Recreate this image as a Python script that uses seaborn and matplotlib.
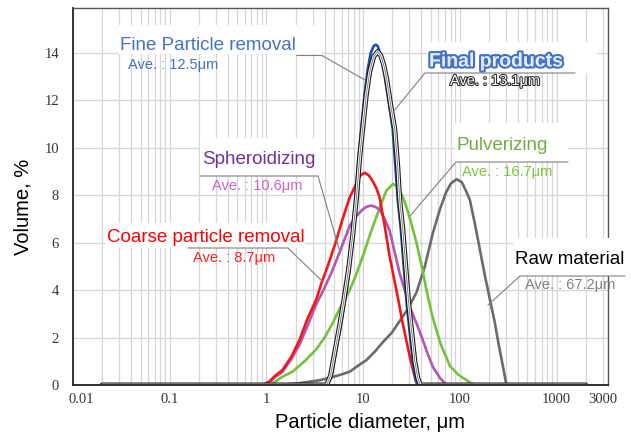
import numpy as np
import pandas as pd
import matplotlib
matplotlib.use('Agg')
import matplotlib.pyplot as plt
import matplotlib.patheffects as pe
import matplotlib.transforms as mtrans
from matplotlib.lines import Line2D
from matplotlib.patches import Rectangle
from matplotlib.ticker import LogLocator, NullFormatter
import seaborn as sns

# 입도 분포 데이터 (µm, 부피 %) - 그림에서 읽은 값
raw_size = [0.02, 1.36, 2.2, 3.54, 4.5, 5.71, 7.25, 8.77, 10.8, 13.16, 15.92, 19.73, 23.88, 28.92, 35.58,
            43.4, 52.5, 62.1, 71.6, 80.7, 92.4, 104.9, 118.3, 126.9, 143.0, 161.2, 181.6, 204.6, 230.5,
            249.4, 272.4, 299.8, 314.4, 2000]
raw_vol = [0, 0, 0.08, 0.2, 0.3, 0.42, 0.56, 0.8, 1.05, 1.4, 1.8, 2.2, 2.7, 3.2, 3.9,
           5.0, 6.4, 7.4, 8.1, 8.5, 8.68, 8.55, 8.1, 7.8, 6.8, 5.7, 4.6, 3.6, 2.6,
           1.8, 1.0, 0.1, 0, 0]

pulv_size = [0.02, 1.074, 1.239, 1.465, 1.859, 2.475, 3.27, 3.99, 4.83, 5.85, 7.25, 8.36, 9.88, 11.67,
             13.7, 15.55, 17.39, 20.35, 22.79, 25.65, 28.04, 31.06, 35.58, 40.38, 45.17, 51.26, 57.37,
             63.6, 72.8, 78.8, 95.3, 117.3, 130.0, 149.0, 2000]
pulv_vol = [0, 0, 0.15, 0.35, 0.56, 1.0, 1.5, 2.0, 2.6, 3.3, 4.0, 4.6, 5.4, 6.3,
            7.1, 7.7, 8.2, 8.48, 8.35, 7.95, 7.5, 6.9, 6.0, 5.0, 4.0, 3.0, 2.3,
            1.7, 1.15, 0.8, 0.45, 0.2, 0.08, 0, 0]

sph_size = [0.02, 0.908, 1.074, 1.239, 1.465, 1.815, 2.198, 2.66, 3.27, 3.99, 4.83, 5.71, 7.25, 8.36,
            9.88, 10.87, 12.16, 13.48, 14.83, 16.71, 18.82, 21.2, 23.88, 26.92, 30.32, 35.58, 41.36,
            46.6, 52.5, 62.1, 72.8, 2000]
sph_vol = [0, 0, 0.12, 0.35, 0.55, 1.1, 1.7, 2.5, 3.4, 4.1, 4.85, 5.6, 6.7, 7.1,
           7.4, 7.52, 7.57, 7.5, 7.4, 7.0, 6.5, 5.6, 4.7, 4.0, 3.3, 2.6, 1.9,
           1.3, 0.77, 0.3, 0, 0]

coarse_size = [0.02, 0.908, 1.074, 1.239, 1.465, 1.815, 2.198, 2.66, 3.27, 3.71, 4.29, 5.28, 6.13, 7.25,
               8.5, 9.42, 10.37, 11.4, 12.54, 13.7, 14.83, 16.71, 18.82, 22.08, 25.65, 30.32, 33.36,
               35.58, 37.6, 2000]
coarse_vol = [0, 0, 0.15, 0.4, 0.63, 1.2, 1.9, 2.8, 3.6, 4.3, 5.0, 6.1, 7.0, 7.9,
              8.5, 8.85, 8.95, 8.85, 8.6, 8.3, 7.9, 6.7, 5.4, 4.0, 2.6, 1.2, 0.5,
              0.1, 0, 0]

fine_size = [0.02, 4.29, 4.72, 5.28, 5.85, 6.43, 7.25, 7.79, 8.36, 8.98, 9.65, 10.37, 11.13, 11.96,
             12.85, 13.48, 14.13, 15.19, 16.31, 17.94, 20.21, 21.72, 22.79, 24.47, 26.28, 28.22,
             30.32, 32.56, 34.97, 36.7, 2000]
fine_vol = [0, 0, 0.4, 1.5, 2.5, 3.5, 4.9, 6.3, 8.0, 9.6, 11.0, 12.3, 13.3, 14.0,
            14.3, 14.35, 14.3, 13.9, 13.3, 12.2, 10.8, 9.0, 7.8, 6.6, 5.0, 3.4,
            2.2, 1.0, 0.2, 0, 0]

final_size = [0.02, 4.19, 4.6, 5.15, 5.71, 6.28, 7.08, 7.79, 8.57, 9.2, 9.88, 10.74, 11.67, 12.85,
              14.13, 15.19, 16.31, 17.52, 19.27, 21.2, 22.79, 23.88, 25.65, 27.55, 29.62, 31.83,
              34.2, 36.73, 38.99, 2000]
final_vol = [0, 0, 0.4, 1.5, 2.5, 3.5, 4.9, 6.3, 8.0, 9.6, 10.8, 12.2, 13.2, 13.85,
             14.06, 13.9, 13.5, 12.9, 11.8, 10.8, 9.2, 7.8, 6.6, 5.0, 3.4, 2.2,
             1.0, 0.3, 0, 0]

x_ticks = [0.01, 0.1, 1, 10, 100, 1000, 3000]
x_ticklabels = ['0.01', '0.1', '1', '10', '100', '1000', '3000']
y_ticks = [0, 2, 4, 6, 8, 10, 12, 14]

sns.set_theme(style='white')
plt.rcParams['font.family'] = ['Liberation Sans', 'DejaVu Sans']

W, H = 631, 434
fig = plt.figure(figsize=(W / 100, H / 100), dpi=100)
ax = fig.add_axes([73 / W, 1 - 385 / H, (608 - 73) / W, (385 - 8) / H])


def fx(px):
    return px / W


def fy(py):
    return 1 - py / H


# 곡선
lw = 1.9
sns.lineplot(x=raw_size, y=raw_vol, ax=ax, color='#6b6b6b', lw=lw, estimator=None, sort=False)
sns.lineplot(x=pulv_size, y=pulv_vol, ax=ax, color='#72c23c', lw=lw, estimator=None, sort=False)
sns.lineplot(x=sph_size, y=sph_vol, ax=ax, color='#b455b4', lw=lw, estimator=None, sort=False)
sns.lineplot(x=coarse_size, y=coarse_vol, ax=ax, color='#f01818', lw=lw, estimator=None, sort=False)
sns.lineplot(x=fine_size, y=fine_vol, ax=ax, color='#2050a8', lw=lw, estimator=None, sort=False)
sns.lineplot(x=final_size, y=final_vol, ax=ax, color='#808080', lw=0.7, estimator=None, sort=False,
             path_effects=[pe.Stroke(linewidth=3.6, foreground='#1a1a1a'),
                           pe.Stroke(linewidth=2.0, foreground='white'), pe.Normal()])

ax.set_xscale('log')
ax.set_xlim(0.01, 3400)
ax.set_ylim(0, 15.9)
ax.set_xticks(x_ticks)
ax.set_xticklabels(x_ticklabels)
ax.xaxis.set_minor_locator(LogLocator(base=10, subs=np.arange(2, 10)))
ax.xaxis.set_minor_formatter(NullFormatter())
ax.set_yticks(y_ticks)
ax.set_yticklabels([str(v) for v in y_ticks])

ax.set_axisbelow(True)
ax.grid(True, which='both', axis='x', color='#d6d6d6', lw=0.9)
ax.grid(True, which='major', axis='y', color='#d6d6d6', lw=0.9)

for lab in ax.get_xticklabels() + ax.get_yticklabels():
    lab.set_family(['Liberation Serif', 'DejaVu Serif'])
    lab.set_fontsize(10.5)
    lab.set_color('#333333')
ax.tick_params(axis='both', which='both', length=0)
ax.tick_params(axis='x', pad=6)
ax.tick_params(axis='y', pad=10)

# 0.01 라벨은 축 오른쪽으로 조금 이동
first = ax.get_xticklabels()[0]
first.set_transform(first.get_transform() + mtrans.ScaledTranslation(8 / 100, 0, fig.dpi_scale_trans))

for s in ['left', 'bottom']:
    ax.spines[s].set_color('#222222')
    ax.spines[s].set_linewidth(1.3)
for s in ['top', 'right']:
    ax.spines[s].set_color('#555555')
    ax.spines[s].set_linewidth(1.0)

ax.set_xlabel('Particle diameter, μm', fontsize=14.5, color='black', va='center')
ax.xaxis.set_label_coords((370 - 73) / 535, (385 - 422) / 377)
ax.set_ylabel('Volume, %', fontsize=14.5, color='black', va='center')
ax.yaxis.set_label_coords((23 - 73) / 535, (385 - 207) / 377)

# 라벨 박스 (흰 배경)
boxes = [(118, 25, 322, 54), (427, 42, 597, 73), (455, 123, 568, 162),
         (200, 138, 320, 176), (105, 223, 305, 248), (513, 238, 631, 276)]
for x0, y0, x1, y1 in boxes:
    fig.patches.append(Rectangle((fx(x0), fy(y1)), fx(x1) - fx(x0), fy(y0) - fy(y1),
                                 transform=fig.transFigure, facecolor='white',
                                 edgecolor='none', zorder=1))

# 지시선
leaders = [
    [(297, 55.5), (322, 55.5), (365, 80)],
    [(575, 73), (425, 73), (393, 112)],
    [(568, 162), (456, 162), (410, 216)],
    [(200, 176), (318, 176), (340, 252)],
    [(188, 248), (288, 248), (323, 282)],
    [(625, 276), (520, 276), (488, 305)],
]
for pts in leaders:
    xs = [fx(p[0]) for p in pts]
    ys = [fy(p[1]) for p in pts]
    fig.lines.append(Line2D(xs, ys, transform=fig.transFigure, color='#7f7f7f', lw=0.8, zorder=2))

big = 13.5
small = 10.5
fig.text(fx(120), fy(46), 'Fine Particle removal', color='#4472c4', fontsize=big, va='center', zorder=3)
fig.text(fx(128), fy(65), 'Ave. : 12.5μm', color='#4472c4', fontsize=small, va='center', zorder=3)

fig.text(fx(429), fy(62), 'Final products', color='#e6edfa', fontsize=14, fontweight='bold',
         va='center', zorder=3,
         path_effects=[pe.withStroke(linewidth=3, foreground='#4472c4')])
fig.text(fx(450), fy(81), 'Ave. : 13.1μm', color='white', fontsize=small, va='center', zorder=3,
         path_effects=[pe.withStroke(linewidth=1.5, foreground='#2a2a2a')])

fig.text(fx(457), fy(145), 'Pulverizing', color='#70ad47', fontsize=big, va='center', zorder=3)
fig.text(fx(462), fy(172), 'Ave. : 16.7μm', color='#78c83c', fontsize=small, va='center', zorder=3)

fig.text(fx(202), fy(160), 'Spheroidizing', color='#7030a0', fontsize=big, va='center', zorder=3)
fig.text(fx(212), fy(186), 'Ave. : 10.6μm', color='#c864c8', fontsize=small, va='center', zorder=3)

fig.text(fx(107), fy(237), 'Coarse particle removal', color='#ff0000', fontsize=big, va='center', zorder=3)
fig.text(fx(193), fy(258), 'Ave. : 8.7μm', color='#ff2020', fontsize=small, va='center', zorder=3)

fig.text(fx(515), fy(259), 'Raw material', color='black', fontsize=big, va='center', zorder=3)
fig.text(fx(525), fy(285), 'Ave. : 67.2μm', color='#808080', fontsize=small, va='center', zorder=3)

fig.savefig('out.png', dpi=100)
